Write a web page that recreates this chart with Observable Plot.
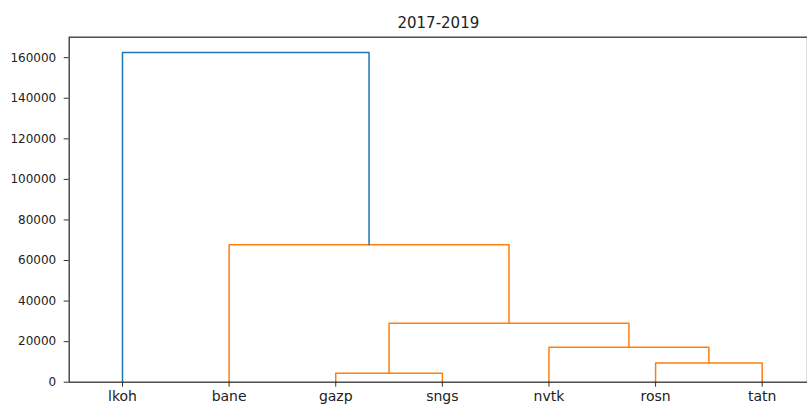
<!DOCTYPE html>
<html>
<head>
<meta charset="utf-8">
<script src="https://cdn.jsdelivr.net/npm/d3@7"></script>
<script src="https://cdn.jsdelivr.net/npm/@observablehq/plot@0.6"></script>
<style>
  html, body { margin: 0; padding: 0; background: #fff; overflow: hidden; }
  svg { font-family: "DejaVu Sans", sans-serif; }
</style>
</head>
<body>
<div id="chart"></div>
<script>
// ---- data ----
const title = "2017-2019";
const leaves = ["lkoh", "bane", "gazp", "sngs", "nvtk", "rosn", "tatn"];
// merges: [left id, right id] (ids 0..6 leaves, 7+ clusters in merge order)
const mergeLeft  = [2, 5, 4, 7, 1, 0];
const mergeRight = [3, 6, 8, 9, 10, 11];
const mergeHeight = [4400, 9500, 17200, 29100, 67800, 162500];
const mergeCluster = ["C1", "C1", "C1", "C1", "C1", "C0"];
const yTicks = [0, 20000, 40000, 60000, 80000, 100000, 120000, 140000, 160000];

// ---- build dendrogram link paths (scipy convention: leaves at 5, 15, 25, ...) ----
const nodeX = leaves.map((_, i) => 5 + 10 * i);
const nodeY = leaves.map(() => 0);
const links = [];
mergeLeft.forEach((l, k) => {
  const r = mergeRight[k], h = mergeHeight[k];
  const id = k;
  links.push({id, x: nodeX[l], y: nodeY[l], c: mergeCluster[k]});
  links.push({id, x: nodeX[l], y: h, c: mergeCluster[k]});
  links.push({id, x: nodeX[r], y: h, c: mergeCluster[k]});
  links.push({id, x: nodeX[r], y: nodeY[r], c: mergeCluster[k]});
  nodeX.push((nodeX[l] + nodeX[r]) / 2);
  nodeY.push(h);
});
const leafTicks = leaves.map((_, i) => 5 + 10 * i);

const W = 807, H = 405;
const padL = 68.7, padR = 815, padT = 36.7, padB = 381.7;

const chart = Plot.plot({
  width: W,
  height: H,
  marginLeft: padL,
  marginRight: 0,
  marginTop: padT,
  marginBottom: H - padB,
  style: {fontFamily: "DejaVu Sans, sans-serif", background: "#fff", overflow: "hidden"},
  x: {domain: [0, 70], range: [padL, padR], axis: null, label: null},
  y: {domain: [0, 170100], range: [padB, padT], axis: null, label: null},
  color: {domain: ["C0", "C1"], range: ["#1f77b4", "#ff7f0e"]},
  marks: [
    Plot.line(links, {x: "x", y: "y", z: "id", stroke: "c", strokeWidth: 1.5}),
    Plot.frame({stroke: "#333", strokeWidth: 1.3}),
    Plot.axisY(yTicks, {tickSize: 5, tickPadding: 8, tickFormat: d3.format("d"), fontSize: 12, fill: "#222", stroke: "#333", label: null}),
    Plot.axisX(leafTicks, {tickSize: 5, tickPadding: 4, tickFormat: (d, i) => leaves[i], fontSize: 14, fill: "#222", stroke: "#333", label: null}),
    Plot.text([title], {frameAnchor: "top", dy: -20, fontSize: 15, fill: "#222", text: d => d})
  ]
});
document.getElementById("chart").appendChild(chart);
</script>
</body>
</html>
